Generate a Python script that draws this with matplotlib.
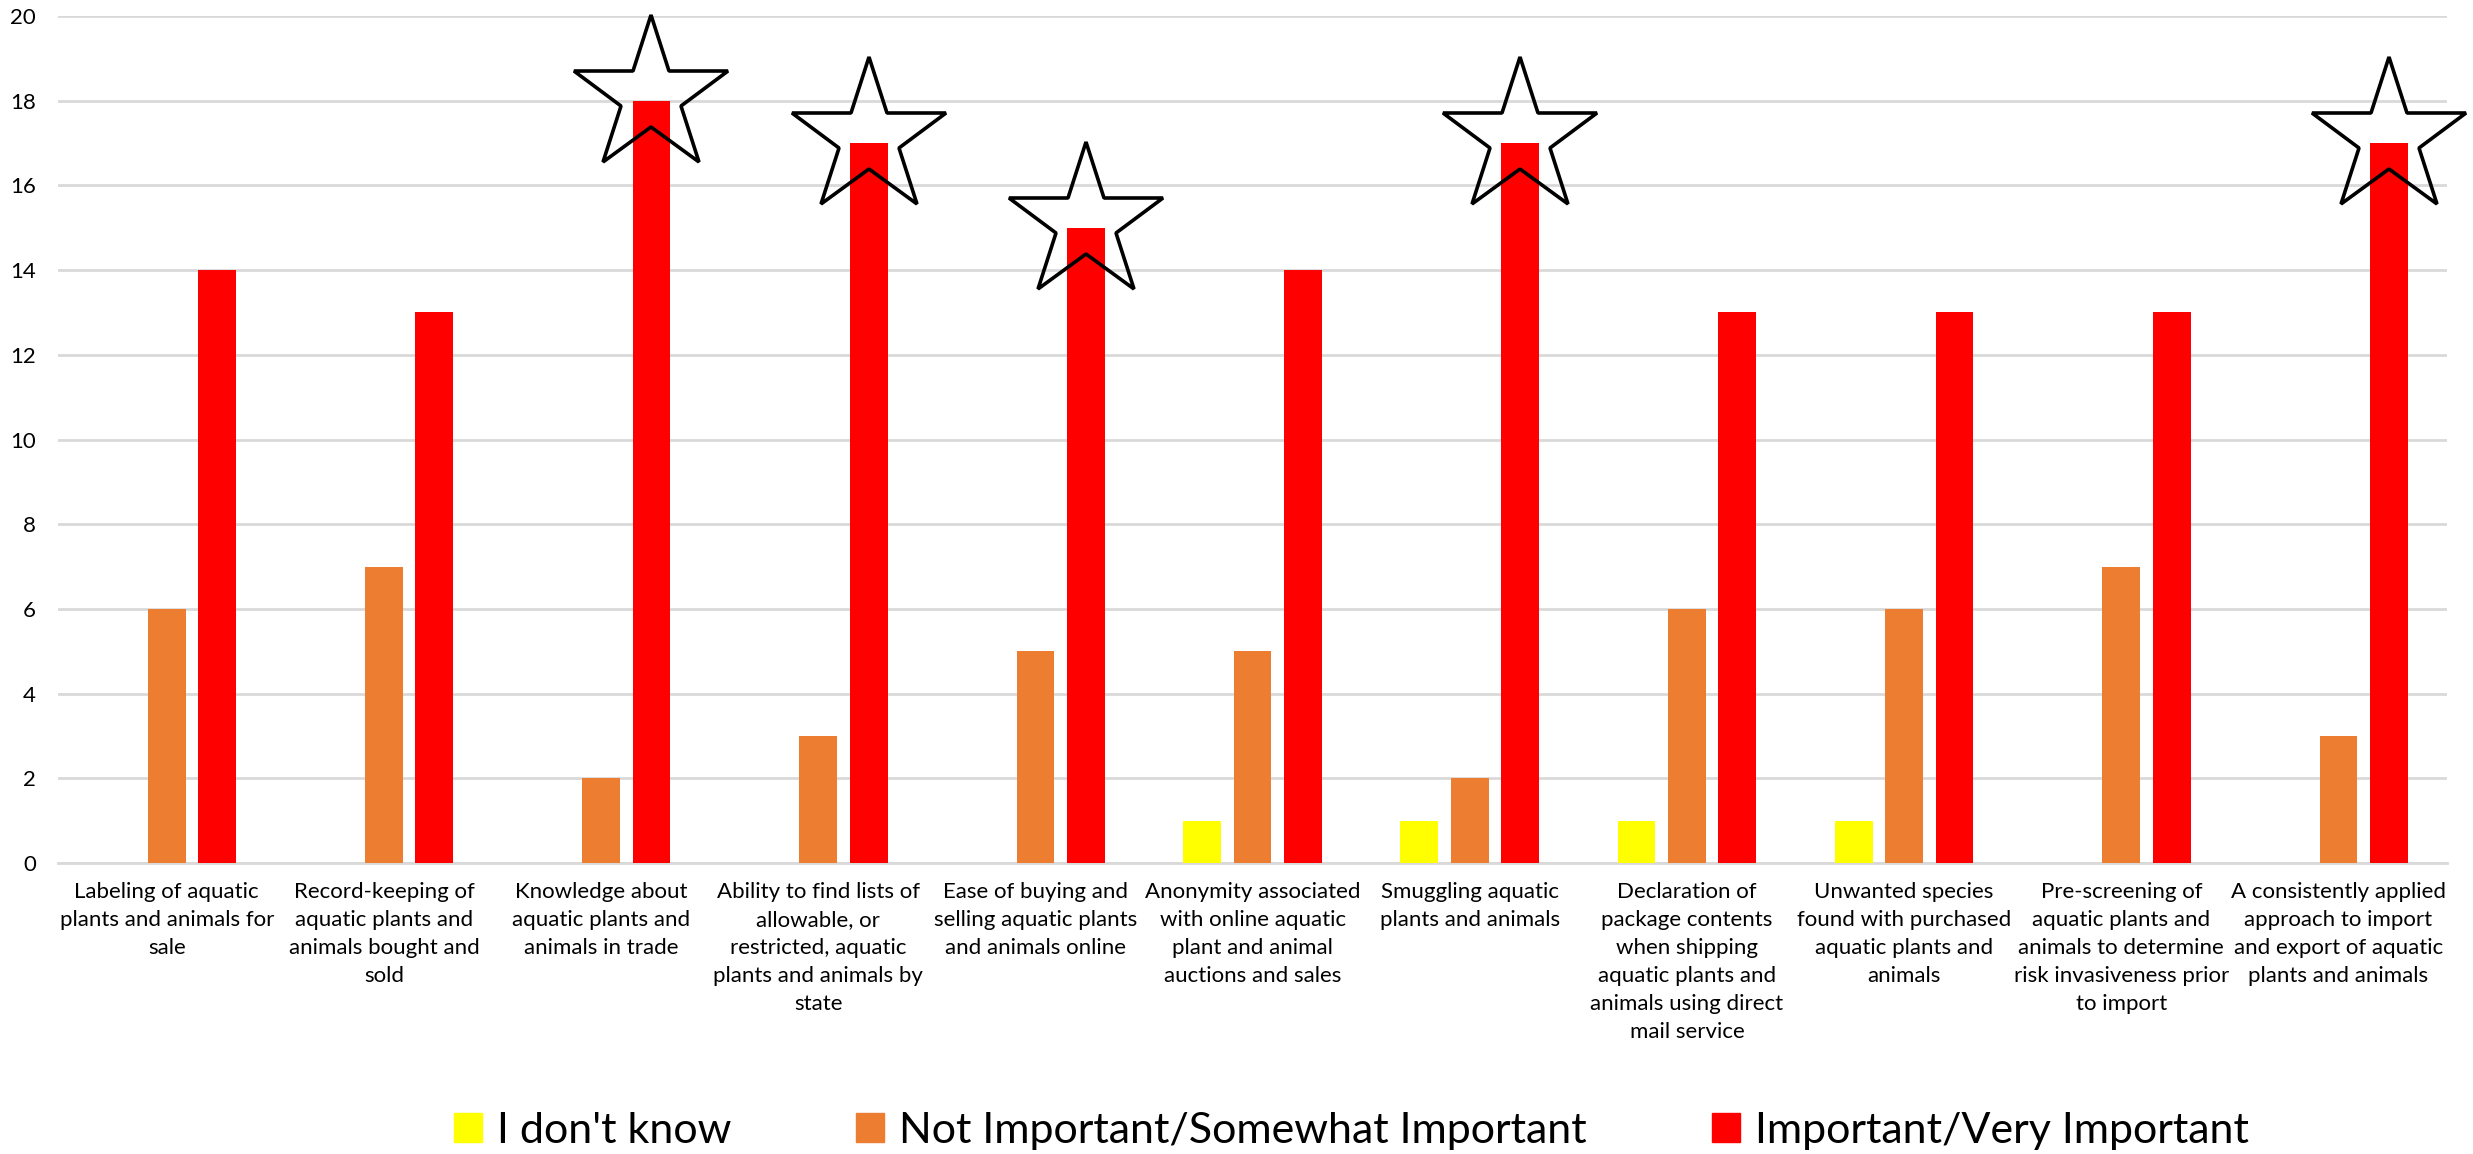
import matplotlib
matplotlib.use("Agg")
import matplotlib.pyplot as plt
import numpy as np
from matplotlib.patches import Patch

plt.rcParams['font.family'] = ['Lato', 'DejaVu Sans']

categories = [
    "Labeling of aquatic\nplants and animals for\nsale",
    "Record-keeping of\naquatic plants and\nanimals bought and\nsold",
    "Knowledge about\naquatic plants and\nanimals in trade",
    "Ability to find lists of\nallowable, or\nrestricted, aquatic\nplants and animals by\nstate",
    "Ease of buying and\nselling aquatic plants\nand animals online",
    "Anonymity associated\nwith online aquatic\nplant and animal\nauctions and sales",
    "Smuggling aquatic\nplants and animals",
    "Declaration of\npackage contents\nwhen shipping\naquatic plants and\nanimals using direct\nmail service",
    "Unwanted species\nfound with purchased\naquatic plants and\nanimals",
    "Pre-screening of\naquatic plants and\nanimals to determine\nrisk invasiveness prior\nto import",
    "A consistently applied\napproach to import\nand export of aquatic\nplants and animals",
]
dont_know = [0, 0, 0, 0, 0, 1, 1, 1, 1, 0, 0]
not_important = [6, 7, 2, 3, 5, 5, 2, 6, 6, 7, 3]
important = [14, 13, 18, 17, 15, 14, 17, 13, 13, 13, 17]
starred = [2, 3, 4, 6, 10]

series_names = ["I don't know", "Not Important/Somewhat Important", "Important/Very Important"]
colors = ["#FFFF00", "#ED7D31", "#FF0000"]

fig = plt.figure(figsize=(24.73, 11.54), dpi=100)
ax = fig.add_axes([0.0235, 0.2522, 0.966, 0.7339])

x = np.arange(len(categories))
w = 0.174
step = 0.232
for k, vals in enumerate([dont_know, not_important, important]):
    ax.bar(x + (k - 1) * step, vals, width=w, color=colors[k], zorder=3)

# star outlines on top of the highest-rated items
for i in starred:
    ax.plot(x[i] + step, important[i] + 0.12, marker='*', markersize=117,
            markerfacecolor='none', markeredgecolor='black',
            markeredgewidth=2.6, zorder=5, clip_on=False)

ax.set_xlim(-0.5, len(categories) - 0.5)
ax.set_ylim(0, 20)
ax.set_yticks(range(0, 21, 2))
ax.yaxis.grid(True, color='#d9d9d9', linewidth=2, zorder=0)
ax.set_axisbelow(True)
for s in ['top', 'right', 'left']:
    ax.spines[s].set_visible(False)
ax.spines['bottom'].set_color('#d9d9d9')
ax.spines['bottom'].set_linewidth(2)
ax.tick_params(axis='y', length=0, pad=16, labelsize=16)
ax.tick_params(axis='x', length=0, pad=14)
ax.set_xticks(x)
ax.set_xticklabels(categories, fontsize=16, linespacing=1.5, ha='center', va='top')

handles = [Patch(color=c) for c in colors]
fig.legend(handles, series_names, loc='center', bbox_to_anchor=(0.5465, 0.02),
           ncol=3, frameon=False, fontsize=31, handlelength=0.65, handleheight=0.65,
           handletextpad=0.35, columnspacing=2.9)

fig.savefig("out.png", dpi=100)
